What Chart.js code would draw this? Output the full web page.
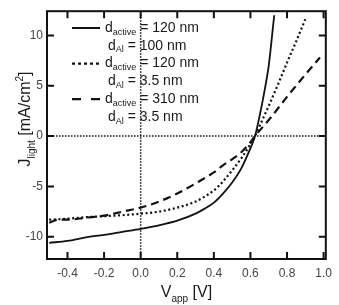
<!DOCTYPE html>
<html>
<head>
<meta charset="utf-8">
<script src="https://cdn.jsdelivr.net/npm/chart.js@4"></script>
<style>
  body { margin: 0; background: #fff; }
  #wrap { width: 339px; height: 305px; }
</style>
</head>
<body>
<div id="wrap"><canvas id="MyChart" width="339" height="305"></canvas></div>
<script>
// J-V curves
const v1 = [-0.5, -0.4, -0.3, -0.2, -0.1, 0, 0.1, 0.2, 0.3, 0.35, 0.4, 0.45, 0.5, 0.55, 0.6, 0.625, 0.65, 0.675, 0.7, 0.73];
const j1 = [-10.6, -10.4, -10.05, -9.8, -9.5, -9.2, -8.85, -8.4, -7.7, -7.2, -6.6, -5.7, -4.6, -3.2, -1.2, 0, 2.0, 4.3, 7.0, 12.0];

const v2 = [-0.5, -0.4, -0.3, -0.2, -0.1, 0, 0.1, 0.2, 0.3, 0.35, 0.4, 0.45, 0.5, 0.55, 0.6, 0.625, 0.65, 0.7, 0.75, 0.8, 0.85, 0.9];
const j2 = [-8.3, -8.2, -8.05, -7.95, -7.85, -7.7, -7.5, -7.1, -6.5, -6.0, -5.4, -4.5, -3.4, -2.2, -0.8, 0, 1.0, 3.0, 5.1, 7.3, 9.4, 11.6];

const v3 = [-0.5, -0.45, -0.4, -0.3, -0.2, -0.1, 0, 0.1, 0.2, 0.3, 0.4, 0.45, 0.5, 0.55, 0.6, 0.625, 0.7, 0.8, 0.9, 0.98];
const j3 = [-8.6, -8.3, -8.3, -8.1, -7.9, -7.5, -7.1, -6.5, -5.7, -4.7, -3.6, -2.9, -2.3, -1.6, -0.6, 0, 1.6, 3.9, 6.1, 7.8];

const dActive = ['120', '120', '310'];
const dAl = ['100', '3.5', '3.5'];

const xTicks = [-0.4, -0.2, 0.0, 0.2, 0.4, 0.6, 0.8, 1.0];
const yTicks = [-10, -5, 0, 5, 10];

const dashes = [[], [2, 2.6], [8, 5]];
const legendDashes = [[], [3, 3], [9, 10]];

function pts(v, j) { return v.map((x, i) => ({ x: x, y: j[i] })); }

const FONT = '"Liberation Sans", Arial, sans-serif';

// draws text with a sub/superscript part, returns width
function richText(ctx, parts, x, y, size, small) {
  let cx = x;
  parts.forEach(p => {
    const fs = p.s ? small : size;
    ctx.font = fs + 'px ' + FONT;
    const dy = p.s === 'sub' ? size * 0.3 : (p.s === 'sup' ? -size * 0.45 : 0);
    ctx.fillText(p.t, cx, y + dy);
    cx += ctx.measureText(p.t).width;
  });
  return cx - x;
}
function richWidth(ctx, parts, size, small) {
  let w = 0;
  parts.forEach(p => {
    ctx.font = (p.s ? small : size) + 'px ' + FONT;
    w += ctx.measureText(p.t).width;
  });
  return w;
}

const decor = {
  id: 'decor',
  beforeDatasetsDraw(chart) {
    const ctx = chart.ctx, xs = chart.scales.x, ys = chart.scales.y, a = chart.chartArea;
    ctx.save();
    ctx.strokeStyle = '#111';
    ctx.lineWidth = 1.5;
    ctx.setLineDash([1.5, 1.5]);
    const x0 = xs.getPixelForValue(0), y0 = ys.getPixelForValue(0);
    ctx.beginPath();
    ctx.moveTo(x0, a.top); ctx.lineTo(x0, a.bottom);
    ctx.moveTo(a.left, y0); ctx.lineTo(a.right, y0);
    ctx.stroke();
    ctx.restore();
  },
  afterDraw(chart) {
    const ctx = chart.ctx, xs = chart.scales.x, ys = chart.scales.y, a = chart.chartArea;
    ctx.save();
    // frame
    ctx.strokeStyle = '#111';
    ctx.lineWidth = 2;
    ctx.setLineDash([]);
    ctx.strokeRect(a.left, a.top, a.right - a.left, a.bottom - a.top);
    // inward ticks on all sides
    const tl = 7;
    ctx.lineWidth = 2;
    ctx.beginPath();
    xTicks.forEach(v => {
      const px = xs.getPixelForValue(v);
      ctx.moveTo(px, a.bottom); ctx.lineTo(px, a.bottom - tl);
      ctx.moveTo(px, a.top); ctx.lineTo(px, a.top + tl);
    });
    yTicks.forEach(v => {
      const py = ys.getPixelForValue(v);
      ctx.moveTo(a.left, py); ctx.lineTo(a.left + tl, py);
      ctx.moveTo(a.right, py); ctx.lineTo(a.right - tl, py);
    });
    ctx.stroke();

    // legend
    ctx.fillStyle = '#1a1a1a';
    ctx.textBaseline = 'middle';
    ctx.textAlign = 'left';
    const rowH = 17.8;
    let y = 28;
    for (let i = 0; i < dActive.length; i++) {
      ctx.strokeStyle = '#111';
      ctx.lineWidth = i === 0 ? 2 : 2.2;
      ctx.setLineDash(legendDashes[i]);
      ctx.beginPath();
      ctx.moveTo(72, y); ctx.lineTo(100, y);
      ctx.stroke();
      ctx.setLineDash([]);
      richText(ctx, [{ t: 'd' }, { t: 'active', s: 'sub' }, { t: ' = ' + dActive[i] + ' nm' }], 105, y, 14, 9);
      richText(ctx, [{ t: 'd' }, { t: 'Al', s: 'sub' }, { t: ' = ' + dAl[i] + ' nm' }], 108, y + rowH, 14, 9);
      y += rowH * 2;
    }

    // axis titles
    ctx.fillStyle = '#1a1a1a';
    ctx.textBaseline = 'alphabetic';
    const xt = [{ t: 'V' }, { t: 'app', s: 'sub' }, { t: ' [V]' }];
    const xw = richWidth(ctx, xt, 16, 10);
    richText(ctx, xt, (a.left + a.right) / 2 - xw / 2, 297, 16, 10);

    const yt = [{ t: 'J' }, { t: 'light', s: 'sub' }, { t: ' [mA/cm' }, { t: '2', s: 'sup' }, { t: ']' }];
    const yw = richWidth(ctx, yt, 16, 10);
    ctx.translate(30, 119);
    ctx.rotate(-Math.PI / 2);
    richText(ctx, yt, -yw / 2, 0, 16, 10);
    ctx.restore();
  }
};

const ctx = document.getElementById('MyChart').getContext('2d');
const series = [pts(v1, j1), pts(v2, j2), pts(v3, j3)];

const myChart = new Chart(ctx, {
  type: 'scatter',
  data: {
    datasets: series.map((d, i) => ({
      data: d,
      showLine: true,
      borderColor: '#111',
      borderWidth: i === 0 ? 1.8 : 2.2,
      borderDash: dashes[i],
      pointRadius: 0,
      tension: 0.3,
      cubicInterpolationMode: 'monotone',
      fill: false
    }))
  },
  options: {
    responsive: false,
    animation: false,
    layout: { padding: { top: 5, right: 6, left: 0, bottom: 0 } },
    plugins: { legend: { display: false }, tooltip: { enabled: false } },
    scales: {
      x: {
        type: 'linear',
        min: -0.512,
        max: 1.012,
        afterBuildTicks: s => { s.ticks = xTicks.map(v => ({ value: v })); },
        afterFit: s => { s.height = 46; },
        grid: { display: false, drawTicks: false },
        border: { display: false },
        ticks: {
          padding: 7,
          color: '#444',
          font: { family: FONT, size: 12 },
          maxRotation: 0,
          autoSkip: false,
          callback: v => v.toFixed(1)
        }
      },
      y: {
        type: 'linear',
        min: -12.2,
        max: 12.4,
        afterBuildTicks: s => { s.ticks = yTicks.map(v => ({ value: v })); },
        afterFit: s => { s.width = 47; },
        grid: { display: false, drawTicks: false },
        border: { display: false },
        ticks: {
          padding: 4,
          color: '#444',
          font: { family: FONT, size: 12 },
          autoSkip: false,
          callback: v => String(v)
        }
      }
    }
  },
  plugins: [decor]
});
</script>
</body>
</html>
